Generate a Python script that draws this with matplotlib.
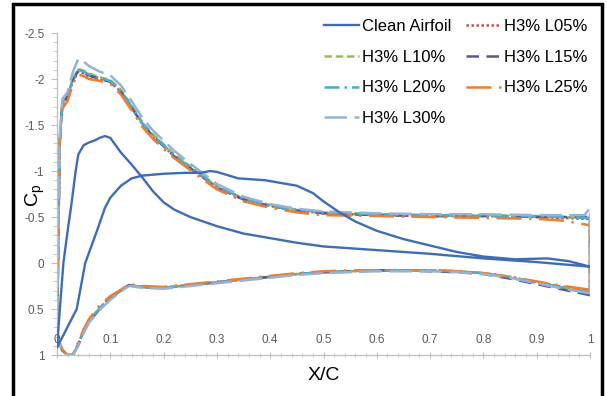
import matplotlib
matplotlib.use("Agg")
import matplotlib.pyplot as plt
from matplotlib.patches import Rectangle
from matplotlib.ticker import MultipleLocator, FuncFormatter

# clean airfoil, one closed loop (pressure side from TE to LE, then suction side back to TE)
x_clean = [1.00, 0.96, 0.92, 0.86, 0.80, 0.75, 0.70, 0.65, 0.60, 0.56, 0.53, 0.50, 0.48, 0.45,
           0.42, 0.39, 0.34, 0.30, 0.287, 0.27, 0.24, 0.20, 0.16, 0.14, 0.12, 0.10, 0.09, 0.075, 0.053, 0.037, 0.0,
           0.006, 0.012, 0.02, 0.028, 0.035, 0.04, 0.05, 0.06, 0.07, 0.08, 0.09, 0.10, 0.12, 0.14, 0.16, 0.18,
           0.20, 0.22, 0.25, 0.30, 0.35, 0.40, 0.45, 0.50, 0.60, 0.70, 0.80, 0.90, 1.00]
cp_clean = [0.04, -0.02, -0.05, -0.04, -0.07, -0.12, -0.19, -0.26, -0.35, -0.45, -0.55, -0.67, -0.76, -0.84,
            -0.87, -0.90, -0.92, -0.99, -1.00, -0.98, -0.98, -0.97, -0.95, -0.92, -0.84, -0.71, -0.60, -0.35, 0.0, 0.5, 0.92,
            0.45, 0.0, -0.35, -0.68, -1.0, -1.18, -1.28, -1.31, -1.33, -1.36, -1.38, -1.36, -1.20, -1.07, -0.93, -0.78,
            -0.66, -0.58, -0.50, -0.40, -0.32, -0.27, -0.22, -0.18, -0.14, -0.10, -0.05, -0.01, 0.04]

# H3 cases, suction side
x_up = [0, 0.005, 0.01, 0.02, 0.03, 0.04, 0.05, 0.06, 0.08, 0.10, 0.12, 0.14, 0.16, 0.18, 0.20,
        0.22, 0.25, 0.30, 0.35, 0.40, 0.45, 0.50, 0.60, 0.70, 0.80, 0.90, 0.95, 0.99, 1.00]
up_L05 = [0.8, -1.30, -1.72, -1.80, -1.98, -2.08, -2.06, -2.03, -2.00, -1.97, -1.86, -1.69, -1.51, -1.38,
          -1.27, -1.16, -1.03, -0.82, -0.69, -0.62, -0.57, -0.54, -0.52, -0.51, -0.51, -0.50, -0.49, -0.48, -0.48]
up_L10 = [0.8, -1.32, -1.74, -1.82, -2.00, -2.11, -2.09, -2.06, -2.02, -1.99, -1.88, -1.71, -1.53, -1.40,
          -1.29, -1.18, -1.05, -0.84, -0.70, -0.63, -0.58, -0.55, -0.53, -0.52, -0.52, -0.51, -0.50, -0.49, -0.49]
up_L15 = [0.8, -1.30, -1.73, -1.81, -1.99, -2.09, -2.07, -2.04, -2.00, -1.97, -1.86, -1.69, -1.51, -1.38,
          -1.27, -1.16, -1.03, -0.82, -0.69, -0.62, -0.57, -0.54, -0.52, -0.51, -0.51, -0.50, -0.50, -0.50, -0.50]
up_L20 = [0.8, -1.31, -1.74, -1.82, -2.00, -2.10, -2.08, -2.05, -2.01, -1.98, -1.87, -1.70, -1.52, -1.39,
          -1.28, -1.17, -1.04, -0.83, -0.70, -0.62, -0.58, -0.55, -0.53, -0.52, -0.51, -0.51, -0.50, -0.49, -0.49]
up_L25 = [0.8, -1.28, -1.68, -1.76, -1.95, -2.05, -2.03, -2.00, -1.98, -1.95, -1.83, -1.66, -1.48, -1.35,
          -1.24, -1.14, -1.01, -0.80, -0.67, -0.60, -0.55, -0.52, -0.51, -0.50, -0.49, -0.48, -0.46, -0.42, -0.41]
up_L30 = [0.8, -1.35, -1.78, -1.86, -2.08, -2.22, -2.19, -2.14, -2.08, -2.04, -1.93, -1.76, -1.58, -1.44,
          -1.33, -1.22, -1.08, -0.86, -0.72, -0.64, -0.59, -0.56, -0.54, -0.53, -0.53, -0.52, -0.52, -0.52, -0.60]

# H3 cases, pressure side
x_lo = [0, 0.01, 0.02, 0.03, 0.04, 0.05, 0.06, 0.08, 0.10, 0.12, 0.135, 0.16, 0.20, 0.25, 0.30,
        0.35, 0.40, 0.45, 0.50, 0.55, 0.60, 0.65, 0.70, 0.75, 0.80, 0.85, 0.90, 0.95, 1.00]
lo_L05 = [0.8, 0.95, 1.0, 1.0, 0.88, 0.74, 0.63, 0.49, 0.38, 0.30, 0.24, 0.26, 0.27, 0.24, 0.21,
          0.18, 0.15, 0.12, 0.10, 0.09, 0.08, 0.08, 0.08, 0.09, 0.11, 0.15, 0.21, 0.26, 0.30]
lo_L10 = [0.8, 0.95, 1.0, 1.0, 0.88, 0.74, 0.63, 0.49, 0.38, 0.30, 0.24, 0.26, 0.27, 0.24, 0.21,
          0.18, 0.15, 0.12, 0.10, 0.09, 0.08, 0.08, 0.08, 0.09, 0.11, 0.16, 0.22, 0.27, 0.31]
lo_L15 = [0.8, 0.95, 1.0, 1.0, 0.89, 0.75, 0.64, 0.50, 0.39, 0.30, 0.24, 0.26, 0.27, 0.24, 0.21,
          0.18, 0.15, 0.12, 0.10, 0.09, 0.08, 0.08, 0.09, 0.10, 0.12, 0.17, 0.23, 0.29, 0.35]
lo_L20 = [0.8, 0.95, 1.0, 1.0, 0.88, 0.74, 0.63, 0.49, 0.38, 0.30, 0.24, 0.26, 0.27, 0.24, 0.21,
          0.18, 0.15, 0.12, 0.10, 0.09, 0.08, 0.08, 0.08, 0.09, 0.11, 0.15, 0.21, 0.27, 0.32]
lo_L25 = [0.8, 0.94, 1.0, 0.99, 0.86, 0.72, 0.61, 0.46, 0.36, 0.29, 0.23, 0.25, 0.26, 0.23, 0.20,
          0.17, 0.14, 0.11, 0.09, 0.08, 0.08, 0.08, 0.08, 0.09, 0.11, 0.15, 0.20, 0.25, 0.29]
lo_L30 = [0.8, 0.96, 1.0, 1.0, 0.90, 0.76, 0.65, 0.51, 0.40, 0.31, 0.25, 0.27, 0.28, 0.25, 0.22,
          0.19, 0.16, 0.13, 0.11, 0.10, 0.09, 0.09, 0.09, 0.10, 0.12, 0.16, 0.22, 0.28, 0.33]

labels = ["H3% L05%", "H3% L10%", "H3% L15%", "H3% L20%", "H3% L25%", "H3% L30%"]
uppers = [up_L05, up_L10, up_L15, up_L20, up_L25, up_L30]
lowers = [lo_L05, lo_L10, lo_L15, lo_L20, lo_L25, lo_L30]
colors = ["#C0504D", "#9BBB59", "#5B5690", "#4BACC6", "#ED7D31", "#95B3D7"]
dashes = [(0, (1, 1)), (0, (3, 1.5)), (0, (5, 3)), (0, (6, 2, 1, 2)), (0, (10, 3, 1, 3)), (0, (9, 3))]

plt.rcParams["font.family"] = ["Liberation Sans", "DejaVu Sans"]

fig = plt.figure(figsize=(6.07, 3.96), dpi=100)
ax = fig.add_axes([57 / 607, 1 - 355 / 396, 533 / 607, 322 / 396])

lines = []
l, = ax.plot(x_clean, cp_clean, color="#3E6DB5", lw=1.7, label="Clean Airfoil", zorder=3)
lines.append(l)
for lab, up, lo, c, ls in zip(labels, uppers, lowers, colors, dashes):
    # lower TE -> LE -> upper TE, closed at the trailing edge
    xx = x_lo[::-1] + x_up[1:] + [x_lo[-1]]
    yy = lo[::-1] + up[1:] + [lo[-1]]
    l, = ax.plot(xx, yy, color=c, lw=1.8, linestyle=ls, label=lab)
    lines.append(l)

ax.set_xlim(0, 1)
ax.set_ylim(1, -2.5)
ax.xaxis.set_major_locator(MultipleLocator(0.1))
ax.xaxis.set_minor_locator(MultipleLocator(0.02))
ax.yaxis.set_major_locator(MultipleLocator(0.5))
ax.yaxis.set_minor_locator(MultipleLocator(0.1))
ax.xaxis.set_major_formatter(FuncFormatter(lambda v, p: "%g" % round(v, 2)))
ax.yaxis.set_major_formatter(FuncFormatter(lambda v, p: "%g" % round(v, 2)))

for s in ["top", "right"]:
    ax.spines[s].set_visible(False)
for s in ["left", "bottom"]:
    ax.spines[s].set_color("#BFBFBF")
    ax.spines[s].set_linewidth(0.9)

ax.tick_params(which="both", color="#BFBFBF", labelcolor="#595959", labelsize=8.5)
ax.tick_params(axis="y", which="major", direction="out", length=4, pad=5)
ax.tick_params(axis="y", which="minor", direction="out", length=3)
ax.tick_params(axis="x", which="major", direction="inout", length=4, pad=-17)
ax.tick_params(axis="x", which="minor", direction="inout", length=3)

ax.set_xlabel("X/C", fontsize=14, labelpad=4)
fig.text(35 / 607, 1 - 195 / 396, "C$_\\mathregular{p}$", fontsize=14, rotation=90,
         ha="center", va="center")

# row-wise legend order like the original
order = [0, 2, 4, 6, 1, 3, 5]
ax.legend([lines[i] for i in order], [lines[i].get_label() for i in order],
          ncol=2, loc="upper right", bbox_to_anchor=(1.008, 1.065), frameon=False,
          fontsize=12, handlelength=2.1, handletextpad=0.2, columnspacing=0.85,
          labelspacing=0.95, borderaxespad=0)

# black frame around the picture
fig.add_artist(Rectangle((13 / 607, -0.1), 589 / 607, 1.1 - 4 / 396, transform=fig.transFigure,
                         fill=False, edgecolor="black", lw=2.5))

fig.savefig("out.png", dpi=100)
